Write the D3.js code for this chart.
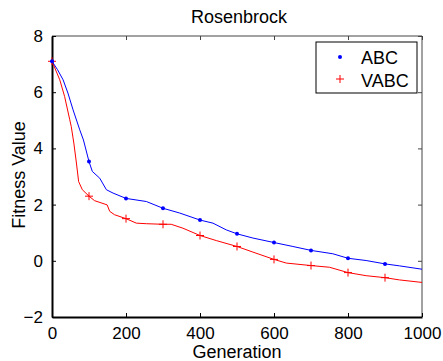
<!DOCTYPE html>
<html>
<head>
<meta charset="utf-8">
<script src="https://d3js.org/d3.v7.min.js"></script>
<style>
  body { margin: 0; background: #fff; }
  text { font-family: "Liberation Sans", Arial, sans-serif; fill: #000; }
</style>
</head>
<body>
<div id="chart"></div>
<script>
// ABC curve (generation, fitness)
var abcGen = [0, 15, 30, 43, 57, 75, 85, 100, 109, 129, 147, 165, 200, 255, 300, 345, 400, 435, 471, 500, 543, 600, 651, 700, 759, 800, 849, 900, 939, 1000];
var abcVal = [7.1, 6.8, 6.44, 5.97, 5.37, 4.66, 4.3, 3.53, 3.18, 2.94, 2.53, 2.41, 2.22, 2.11, 1.87, 1.70, 1.45, 1.34, 1.10, 0.96, 0.81, 0.65, 0.51, 0.37, 0.25, 0.09, 0.01, -0.11, -0.18, -0.30];

// VABC curve
var vabcGen = [0, 21, 34, 48, 52, 59, 66, 72, 82, 100, 115, 149, 156, 169, 200, 228, 255, 300, 322, 354, 400, 444, 500, 543, 600, 633, 700, 750, 800, 849, 900, 939, 1000];
var vabcVal = [7.1, 6.44, 5.85, 5.02, 4.78, 4.19, 3.48, 2.82, 2.53, 2.3, 2.14, 1.99, 1.76, 1.64, 1.5, 1.34, 1.32, 1.30, 1.30, 1.16, 0.90, 0.72, 0.51, 0.31, 0.05, -0.08, -0.17, -0.23, -0.42, -0.53, -0.60, -0.68, -0.77];

var xTicks = [0, 200, 400, 600, 800, 1000];
var yTicks = [-2, 0, 2, 4, 6, 8];

var margin = {top: 36, right: 21, bottom: 44, left: 52},
    width = 443 - margin.left - margin.right,
    height = 361 - margin.top - margin.bottom;

var svg = d3.select("#chart").append("svg")
    .attr("width", 443)
    .attr("height", 361);

var g = svg.append("g")
    .attr("transform", "translate(" + margin.left + "," + margin.top + ")");

var x = d3.scaleLinear().domain([0, 1000]).range([0, width]);
var y = d3.scaleLinear().domain([-2, 8]).range([height, 0]);

// frame top/right (thin)
g.append("line").attr("x1", 0).attr("x2", width).attr("y1", 0).attr("y2", 0)
    .attr("stroke", "#444").attr("stroke-width", 1);
g.append("line").attr("x1", width).attr("x2", width).attr("y1", 0).attr("y2", height)
    .attr("stroke", "#444").attr("stroke-width", 1);

// inward ticks on top and right
g.append("g").call(d3.axisTop(x).tickValues(xTicks).tickSize(-4).tickFormat(""))
    .call(function(a) { a.select(".domain").remove(); a.selectAll("line").attr("stroke", "#444"); });
g.append("g").attr("transform", "translate(" + width + ",0)")
    .call(d3.axisRight(y).tickValues(yTicks).tickSize(-4).tickFormat(""))
    .call(function(a) { a.select(".domain").remove(); a.selectAll("line").attr("stroke", "#444"); });

// bottom axis
var xa = g.append("g").attr("transform", "translate(0," + height + ")")
    .call(d3.axisBottom(x).tickValues(xTicks).tickFormat(d3.format("d"))
        .tickSize(-4).tickPadding(10).tickSizeOuter(0));
xa.select(".domain").attr("stroke", "#000").attr("stroke-width", 2);
xa.selectAll("text").style("font-size", "17px");

// left axis
var ya = g.append("g")
    .call(d3.axisLeft(y).tickValues(yTicks).tickSize(-4).tickPadding(9).tickSizeOuter(0));
ya.select(".domain").attr("stroke", "#000").attr("stroke-width", 2);
ya.selectAll("text").style("font-size", "17px");

var line = d3.line()
    .x(function(d) { return x(d[0]); })
    .y(function(d) { return y(d[1]); });

var abc = abcGen.map(function(d, i) { return [d, abcVal[i]]; });
var vabc = vabcGen.map(function(d, i) { return [d, vabcVal[i]]; });

g.append("path").datum(vabc).attr("d", line)
    .attr("fill", "none").attr("stroke", "#ff0000").attr("stroke-width", 1);
g.append("path").datum(abc).attr("d", line)
    .attr("fill", "none").attr("stroke", "#0000ff").attr("stroke-width", 1);

// markers every 100 generations
function every100(d) { return d[0] % 100 === 0 && d[0] < 1000; }

g.selectAll(".plus").data(vabc.filter(every100)).enter()
    .append("path").attr("class", "plus")
    .attr("d", function(d) {
        var cx = x(d[0]), cy = y(d[1]);
        return "M" + (cx - 4) + "," + cy + "H" + (cx + 4) + "M" + cx + "," + (cy - 4) + "V" + (cy + 4);
    })
    .attr("stroke", "#ff0000").attr("stroke-width", 1);

g.selectAll(".dot").data(abc.filter(every100)).enter()
    .append("circle").attr("class", "dot")
    .attr("cx", function(d) { return x(d[0]); })
    .attr("cy", function(d) { return y(d[1]); })
    .attr("r", 2)
    .attr("fill", "#0000ff");

// title and labels
svg.append("text").attr("x", 239).attr("y", 23)
    .attr("text-anchor", "middle").style("font-size", "18px").text("Rosenbrock");
svg.append("text").attr("x", 237).attr("y", 358)
    .attr("text-anchor", "middle").style("font-size", "18px").text("Generation");
svg.append("text").attr("transform", "translate(25,175) rotate(-90)")
    .attr("text-anchor", "middle").style("font-size", "18px").text("Fitness Value");

// legend
var leg = svg.append("g").attr("transform", "translate(316,42)");
leg.append("rect").attr("width", 101).attr("height", 51)
    .attr("fill", "#fff").attr("stroke", "#000").attr("stroke-width", 1);
leg.append("circle").attr("cx", 24).attr("cy", 15).attr("r", 2).attr("fill", "#0000ff");
leg.append("path").attr("d", "M20,37H28M24,33V41").attr("stroke", "#ff0000");
leg.append("text").attr("x", 45).attr("y", 22).style("font-size", "18px").text("ABC");
leg.append("text").attr("x", 45).attr("y", 45).style("font-size", "18px").text("VABC");
</script>
</body>
</html>
